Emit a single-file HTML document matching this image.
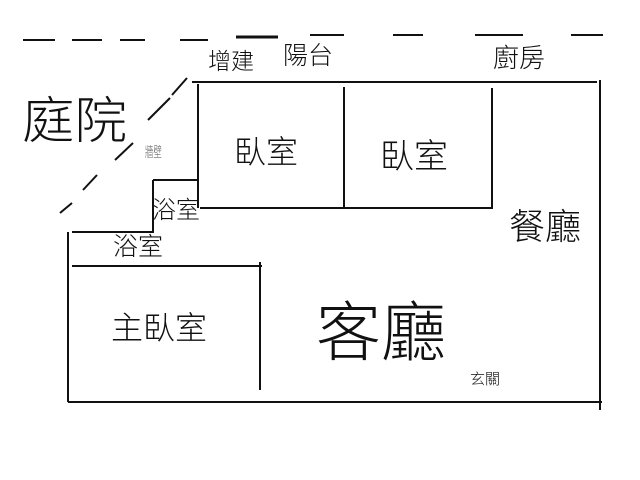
<!DOCTYPE html>
<html><head><meta charset="utf-8"><style>
body{margin:0;background:#fff}
.t{position:absolute;font-family:"Liberation Sans","Noto Sans CJK TC",sans-serif;font-weight:300;color:#111;white-space:nowrap;line-height:1}
</style></head><body>
<div style="position:relative;width:640px;height:480px;overflow:hidden">
<svg width="640" height="480" style="position:absolute;left:0;top:0" stroke="#111" stroke-width="2" fill="none">
<g stroke-width="2">
<line x1="23" y1="40" x2="55" y2="40"/><line x1="72" y1="40" x2="102" y2="40"/>
<line x1="120" y1="40" x2="145" y2="40"/><line x1="180" y1="40" x2="208" y2="40"/>
<line x1="236" y1="37" x2="278" y2="37" stroke-width="3"/><line x1="310" y1="35" x2="344" y2="35"/>
<line x1="393" y1="35" x2="423" y2="35"/><line x1="475" y1="35" x2="523" y2="35"/>
<line x1="571" y1="35" x2="603" y2="35"/>
</g>
<line x1="192" y1="82" x2="597" y2="82"/>
<line x1="198" y1="84" x2="198" y2="208"/>
<line x1="344" y1="87" x2="344" y2="207"/>
<line x1="492" y1="88" x2="492" y2="209"/>
<line x1="200" y1="208" x2="493" y2="208"/>
<line x1="153" y1="180" x2="198" y2="180"/>
<line x1="153" y1="180" x2="153" y2="233"/>
<line x1="72" y1="232" x2="153" y2="232"/>
<line x1="68" y1="232" x2="68" y2="402"/>
<line x1="72" y1="266" x2="262" y2="266"/>
<line x1="260" y1="262" x2="260" y2="390"/>
<line x1="68" y1="402" x2="602" y2="402"/>
<line x1="600" y1="80" x2="600" y2="410"/>
<line x1="187" y1="78" x2="172" y2="95"/>
<line x1="170" y1="98" x2="148" y2="120"/>
<line x1="133" y1="143" x2="115" y2="160"/>
<line x1="97" y1="175" x2="83" y2="190"/>
<line x1="72" y1="203" x2="60" y2="213"/>
</svg>
<div class="t" style="left:22px;top:96px;font-size:50px;transform:scaleX(1.05);transform-origin:left">庭院</div>
<div class="t" style="left:208px;top:50px;font-size:23px">增建</div>
<div class="t" style="left:283px;top:44px;font-size:25px">陽台</div>
<div class="t" style="left:493px;top:45px;font-size:26px">廚房</div>
<div class="t" style="left:234px;top:136px;font-size:32px">臥室</div>
<div class="t" style="left:380px;top:140px;font-size:34px">臥室</div>
<div class="t" style="left:509px;top:209px;font-size:36px">餐廳</div>
<div class="t" style="left:316px;top:300px;font-size:65px">客廳</div>
<div class="t" style="left:470px;top:372px;font-size:15px">玄關</div>
<div class="t" style="left:111px;top:312px;font-size:32px">主臥室</div>
<div class="t" style="left:152px;top:199px;font-size:24px">浴室</div>
<div class="t" style="left:113px;top:235px;font-size:25px">浴室</div>
<div class="t" style="left:145px;top:145px;font-size:14px;color:#666;transform:scaleX(0.6);transform-origin:left">牆壁</div>
</div>
</body></html>
